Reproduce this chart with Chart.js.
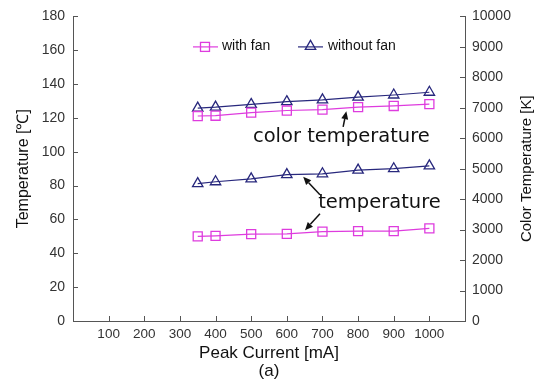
<!DOCTYPE html>
<html><head><meta charset="utf-8">
<script src="https://cdn.jsdelivr.net/npm/chart.js@4.4.1/dist/chart.umd.min.js"></script>
<style>html,body{margin:0;padding:0;background:#fff}#wrap{width:541px;height:380px}</style>
</head><body><div id="wrap"><canvas id="c" width="541" height="380"></canvas></div>
<script>
// ---- data ----
const currents = [350, 400, 500, 600, 700, 800, 900, 1000];          // Peak current [mA]
const tempWithFan = [50, 50.3, 51.3, 51.5, 52.8, 53.1, 53.1, 54.7];   // [℃]
const tempWithoutFan = [81.2, 82.3, 84, 86.5, 87, 89.2, 90, 91.7];    // [℃]
const colorTempWithFan = [6730, 6740, 6840, 6910, 6940, 7020, 7060, 7120];    // [K]
const colorTempWithoutFan = [6990, 7020, 7110, 7200, 7260, 7350, 7420, 7510]; // [K]
const xTickLabels = [100, 200, 300, 400, 500, 600, 700, 800, 900, 1000];
const seriesNames = ['with fan', 'without fan'];

const MAG = 'rgb(222,60,222)';
const NAVY = 'rgb(40,40,125)';
const AX = '#555';

function pts(ys) { return currents.map((x, i) => ({x, y: ys[i]})); }

function ds(label, data, color, style, axis) {
  return {
    label, data: pts(data), yAxisID: axis,
    borderColor: color, backgroundColor: 'rgba(0,0,0,0)',
    borderWidth: 1.2, pointStyle: style, pointRadius: style === 'rect' ? 6.4 : 6,
    pointBorderWidth: 1.3, pointBorderColor: color, pointBackgroundColor: 'rgba(0,0,0,0)',
    tension: 0, fill: false
  };
}

const inwardTicks = {
  id: 'inwardTicks',
  afterDraw(chart) {
    const {ctx, chartArea: a, scales} = chart;
    ctx.save();
    ctx.strokeStyle = AX; ctx.lineWidth = 1;
    xTickLabels.forEach(v => {
      const px = Math.round(scales.x.getPixelForValue(v)) + 0.5;
      ctx.beginPath(); ctx.moveTo(px, a.bottom); ctx.lineTo(px, a.bottom - 5); ctx.stroke();
    });
    scales.y.ticks.forEach(t => {
      const py = Math.round(scales.y.getPixelForValue(t.value)) + 0.5;
      ctx.beginPath(); ctx.moveTo(a.left, py); ctx.lineTo(a.left + 5, py); ctx.stroke();
    });
    scales.y1.ticks.forEach(t => {
      const py = Math.round(scales.y1.getPixelForValue(t.value)) + 0.5;
      ctx.beginPath(); ctx.moveTo(a.right, py); ctx.lineTo(a.right - 5, py); ctx.stroke();
    });
    // right axis title, reading bottom-to-top
    ctx.fillStyle = '#111';
    ctx.font = '15px "Liberation Sans"';
    ctx.textAlign = 'center'; ctx.textBaseline = 'middle';
    ctx.translate(527, (a.top + a.bottom) / 2);
    ctx.rotate(-Math.PI / 2);
    ctx.fillText('Color Temperature [K]', 0, 0);
    ctx.restore();
  }
};

function arrow(ctx, x1, y1, x2, y2) {
  const ang = Math.atan2(y2 - y1, x2 - x1), L = 8, W = 3.5;
  const bx = x2 - L * Math.cos(ang), by = y2 - L * Math.sin(ang);
  ctx.beginPath(); ctx.moveTo(x1, y1); ctx.lineTo(bx, by); ctx.stroke();
  ctx.beginPath(); ctx.moveTo(x2, y2);
  ctx.lineTo(bx + W * Math.sin(ang), by - W * Math.cos(ang));
  ctx.lineTo(bx - W * Math.sin(ang), by + W * Math.cos(ang));
  ctx.closePath(); ctx.fill();
}

const annotations = {
  id: 'annotations',
  afterDatasetsDraw(chart) {
    const {ctx, scales: {x, y}} = chart;
    ctx.save();
    ctx.fillStyle = '#111'; ctx.strokeStyle = '#111'; ctx.lineWidth = 1.5;
    ctx.font = '19.5px "DejaVu Sans"'; ctx.textBaseline = 'middle'; ctx.textAlign = 'left';
    ctx.fillText('color temperature', x.getPixelForValue(505), y.getPixelForValue(109));
    ctx.fillText('temperature', x.getPixelForValue(688), y.getPixelForValue(69.5));
    arrow(ctx, x.getPixelForValue(758), y.getPixelForValue(114.7), x.getPixelForValue(767), y.getPixelForValue(124));
    arrow(ctx, x.getPixelForValue(693), y.getPixelForValue(74.6), x.getPixelForValue(646), y.getPixelForValue(85.2));
    arrow(ctx, x.getPixelForValue(693), y.getPixelForValue(63.4), x.getPixelForValue(651), y.getPixelForValue(53.6));

    // legend
    const a = chart.chartArea;
    const ly = a.top + 30;
    ctx.font = '14px "Liberation Sans"';
    ctx.fillStyle = '#111';
    ctx.lineWidth = 1.2;
    ctx.strokeStyle = MAG;
    ctx.beginPath(); ctx.moveTo(193, ly + 0.5); ctx.lineTo(218, ly + 0.5); ctx.stroke();
    ctx.lineWidth = 1.3;
    ctx.strokeRect(200.5, ly - 4, 9, 9);
    ctx.fillText(seriesNames[0], 222, ly);
    ctx.strokeStyle = NAVY; ctx.lineWidth = 1.2;
    ctx.beginPath(); ctx.moveTo(298, ly + 0.5); ctx.lineTo(323, ly + 0.5); ctx.stroke();
    ctx.lineWidth = 1.3;
    ctx.beginPath(); ctx.moveTo(310.5, ly - 6); ctx.lineTo(315.7, ly + 3); ctx.lineTo(305.3, ly + 3); ctx.closePath(); ctx.stroke();
    ctx.fillText(seriesNames[1], 328, ly);
    ctx.restore();
  }
};

new Chart(document.getElementById('c'), {
  type: 'line',
  data: {
    datasets: [
      ds(seriesNames[0] + ' (T)', tempWithFan, MAG, 'rect', 'y'),
      ds(seriesNames[1] + ' (T)', tempWithoutFan, NAVY, 'triangle', 'y'),
      ds(seriesNames[0] + ' (CCT)', colorTempWithFan, MAG, 'rect', 'y1'),
      ds(seriesNames[1] + ' (CCT)', colorTempWithoutFan, NAVY, 'triangle', 'y1')
    ]
  },
  options: {
    responsive: false, animation: false, devicePixelRatio: 1,
    layout: {padding: {top: 15, bottom: 0, left: 0, right: 0}},
    plugins: {legend: {display: false}, tooltip: {enabled: false}},
    scales: {
      x: {
        type: 'linear', min: 0, max: 1100,
        grid: {display: false, drawTicks: false},
        border: {display: true, color: AX, width: 1},
        ticks: {stepSize: 100, color: '#333', font: {family: 'Liberation Sans', size: 13.5}, padding: 5,
          maxRotation: 0, minRotation: 0, autoSkip: false,
          callback: v => xTickLabels.includes(v) ? String(v) : ''},
        title: {display: true, text: ['Peak Current [mA]', '(a)'], color: '#111',
          font: {family: 'Liberation Sans', size: 17, lineHeight: 1.05}, padding: {top: 0, bottom: 0}},
        afterFit: s => { s.height = 59; }
      },
      y: {
        position: 'left', min: 0, max: 180,
        grid: {display: false, drawTicks: false},
        border: {display: true, color: AX, width: 1},
        ticks: {stepSize: 20, color: '#333', font: {family: 'Liberation Sans', size: 14}, padding: 8},
        title: {display: true, text: 'Temperature [℃]', color: '#111',
          font: {family: 'Liberation Sans', size: 16}, padding: {top: 14, bottom: 0}},
        afterFit: s => { s.width = 73; }
      },
      y1: {
        position: 'right', min: 0, max: 10000,
        grid: {display: false, drawTicks: false},
        border: {display: true, color: AX, width: 1},
        ticks: {stepSize: 1000, color: '#333', font: {family: 'Liberation Sans', size: 14}, padding: 7,
          callback: v => String(v)},
        title: {display: false},
        afterFit: s => { s.width = 76; }
      }
    }
  },
  plugins: [inwardTicks, annotations]
});
</script>
</body></html>
